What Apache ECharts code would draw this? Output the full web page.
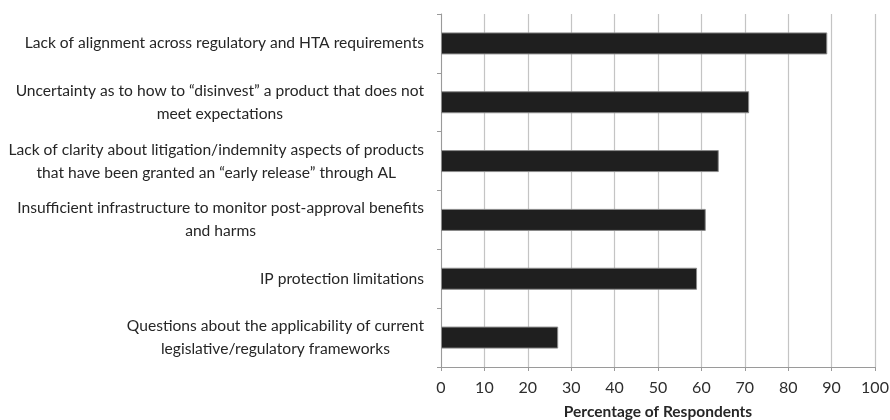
<!DOCTYPE html>
<html>
<head>
<meta charset="utf-8">
<script src="https://cdn.jsdelivr.net/npm/echarts@6/dist/echarts.min.js"></script>
<style>
  html, body { margin: 0; padding: 0; background: #fff; }
  #chart { width: 890px; height: 420px; }
</style>
</head>
<body>
<div id="chart"></div>
<script>
const categories = [
  'Lack of alignment across regulatory and HTA requirements',
  'Uncertainty as to how to \u201cdisinvest\u201d a product that does not\nmeet expectations',
  'Lack of clarity about litigation/indemnity aspects of products\nthat have been granted an \u201cearly release\u201d through AL',
  'Insufficient infrastructure to monitor post-approval benefits\nand harms',
  'IP protection limitations',
  'Questions about the applicability of current\nlegislative/regulatory frameworks'
]
const respondents = [89, 71, 64, 61, 59, 27]
const axisTitle = 'Percentage of Respondents'

const chart = echarts.init(document.getElementById('chart'), null, { renderer: 'canvas' })

// each wrapped line is centred inside the right-aligned label block
const centreLines = value => value.split('\n').map(line => '{c|' + line + '}').join('\n')

chart.setOption({
  animation: false,
  backgroundColor: '#fff',
  grid: { left: 441, right: 15, top: 14, bottom: 53, outerBoundsMode: 'none' },
  xAxis: {
    type: 'value',
    min: 0,
    max: 100,
    interval: 10,
    name: axisTitle,
    nameLocation: 'middle',
    nameGap: 37,
    nameTextStyle: { fontFamily: 'Lato', fontWeight: 'bold', fontSize: 15.5, color: '#262626' },
    axisLine: { show: true, lineStyle: { color: '#9a9a9a', width: 1 } },
    axisTick: { show: true, length: 4, lineStyle: { color: '#9a9a9a' } },
    axisLabel: { fontFamily: 'Lato', fontSize: 16, color: '#2e2e2e', margin: 13 },
    splitLine: { show: true, lineStyle: { color: '#c4c4c4', width: 1.2 } }
  },
  yAxis: {
    type: 'category',
    data: categories,
    inverse: true,
    axisLine: { show: true, lineStyle: { color: '#9a9a9a', width: 1 } },
    axisTick: { show: true, length: 4, lineStyle: { color: '#9a9a9a' } },
    axisLabel: {
      margin: 17,
      align: 'right',
      formatter: centreLines,
      rich: {
        c: {
          fontFamily: 'Lato',
          fontSize: 15.6,
          color: '#262626',
          lineHeight: 23,
          align: 'center'
        }
      }
    },
    splitLine: { show: false }
  },
  series: [{
    type: 'bar',
    data: respondents,
    barWidth: 22,
    itemStyle: { color: '#1f1f1f', borderColor: '#8a8a8a', borderWidth: 1 }
  }]
})
</script>
</body>
</html>
